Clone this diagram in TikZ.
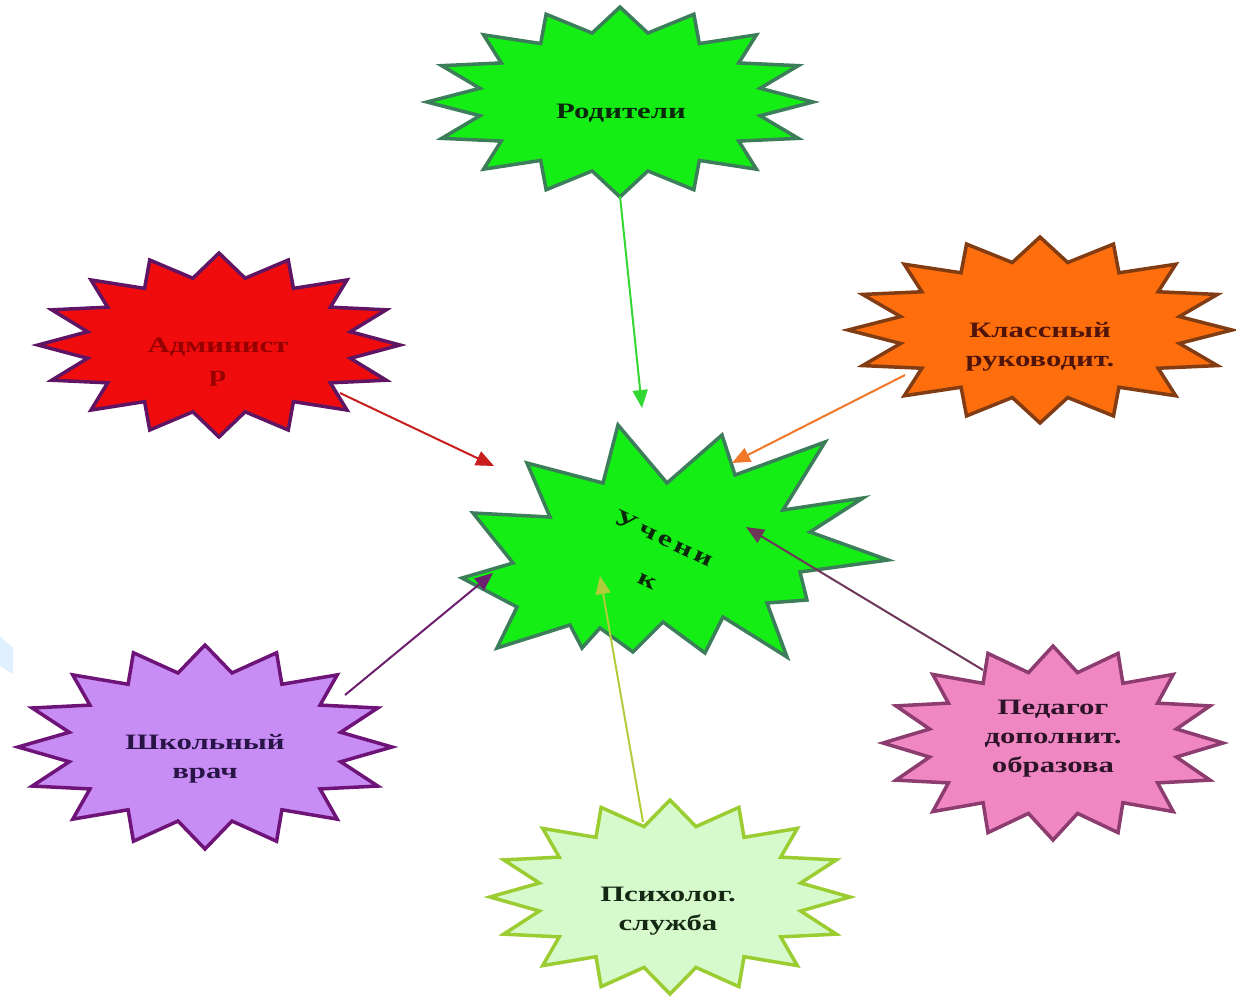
\documentclass[tikz,border=0pt]{standalone}
\usepackage{fontspec}
\newfontfamily\lbl[FakeStretch=1.4]{Liberation Serif}
\newfontfamily\lblsp[FakeStretch=1.4,LetterSpace=14]{Liberation Serif}
\usetikzlibrary{arrows.meta}
\definecolor{rodfill}{RGB}{20,238,20}
\definecolor{rodline}{RGB}{60,125,90}
\definecolor{admfill}{RGB}{240,12,12}
\definecolor{admline}{RGB}{95,20,100}
\definecolor{klfill}{RGB}{255,110,12}
\definecolor{klline}{RGB}{130,60,20}
\definecolor{shkfill}{RGB}{200,140,245}
\definecolor{shkline}{RGB}{110,20,120}
\definecolor{pedfill}{RGB}{240,135,195}
\definecolor{pedline}{RGB}{140,60,110}
\definecolor{psifill}{RGB}{215,250,205}
\definecolor{psiline}{RGB}{155,205,50}
\definecolor{arrgreen}{RGB}{50,215,50}
\definecolor{arrred}{RGB}{200,30,30}
\definecolor{arrorange}{RGB}{240,120,40}
\definecolor{arrped}{RGB}{110,55,90}
\definecolor{arrshk}{RGB}{110,30,110}
\definecolor{arrpsi}{RGB}{175,205,60}
\definecolor{admtext}{RGB}{150,0,0}
\definecolor{kltext}{RGB}{80,20,10}
\definecolor{shktext}{RGB}{40,20,70}
\definecolor{pedtext}{RGB}{45,20,40}
\definecolor{psitext}{RGB}{20,40,20}
\definecolor{rodtext}{RGB}{10,40,10}
\definecolor{paleblue}{RGB}{225,240,255}
\newcommand{\burst}[6]{%
  \draw[#6] ({#1+#3},{#2}) \foreach \i in {1,...,31}{
    -- ({#1+#3*cos(\i*11.25)*(isodd(\i)?#5:1)},{#2+#4*sin(\i*11.25)*(isodd(\i)?#5:1)}) } -- cycle;}
\tikzset{
  lab/.style={align=center, font=\lbl\bfseries\fontsize{22}{29}\selectfont, inner sep=0pt},
  labsp/.style={align=center, font=\lblsp\bfseries\fontsize{23}{29}\selectfont, inner sep=0pt},
  conn/.style={line width=2pt, -{Triangle[length=18pt,width=15pt]}},
  burstline/.style={line width=3.5pt, line join=miter}
}
\begin{document}
\begin{tikzpicture}[x=1pt,y=-1pt]
\useasboundingbox (0,0) rectangle (1236,997);
\fill[white] (0,0) rectangle (1236,997);
\fill[paleblue] (0,636) -- (13,648) -- (13,674) -- (0,666) -- cycle;
% stars
\burst{620}{102}{193}{95}{0.74}{burstline, draw=rodline, fill=rodfill}
\burst{219}{345}{181}{92}{0.74}{burstline, draw=admline, fill=admfill}
\burst{1040}{330}{192}{93}{0.74}{burstline, draw=klline, fill=klfill}
\burst{205}{747}{187}{102}{0.74}{burstline, draw=shkline, fill=shkfill}
\burst{1053}{743}{170}{97}{0.74}{burstline, draw=pedline, fill=pedfill}
\burst{670}{897}{180}{97}{0.74}{burstline, draw=psiline, fill=psifill}
% central irregular star
\draw[burstline, draw=rodline, fill=rodfill]
  (618,425) -- (667,483) -- (722,435) -- (735,475) -- (825,442) -- (783,510)
  -- (863,498) -- (810,532) -- (888,560) -- (800,572) -- (807,600) -- (767,603)
  -- (787,657) -- (723,617) -- (705,653) -- (663,622) -- (633,652) -- (600,628)
  -- (582,648) -- (570,625) -- (497,648) -- (517,607) -- (462,578) -- (513,563)
  -- (473,513) -- (550,517) -- (527,463) -- (603,483) -- cycle;
% labels
\node[lab, text=rodtext] (rod) at (621,113) {Родители};
\node[lab, text=admtext] (adm) at (218,362) {Админист\\р};
\node[lab, text=kltext] (kl) at (1040,347) {Классный\\руководит.};
\node[lab, text=shktext] (shk) at (205,759) {Школьный\\врач};
\node[lab, text=pedtext] (ped) at (1053,739) {Педагог\\дополнит.\\образова};
\node[lab, text=psitext] (psi) at (668,911) {Психолог.\\служба};
\node[labsp, text=rodtext, rotate=-25] (uch) at (664,538) {Учени};
\node[labsp, text=rodtext, rotate=-25] (uchk) at (647,582) {к};
% connector end points
\coordinate (rodS) at (620,196);
\coordinate (uchT) at (642,408);
\coordinate (admS) at (340,393);
\coordinate (uchTL) at (494,466);
\coordinate (klS) at (905,375);
\coordinate (uchTR) at (732,463);
\coordinate (pedS) at (983,670);
\coordinate (uchR) at (746,527);
\coordinate (shkS) at (345,695);
\coordinate (uchL) at (493,573);
\coordinate (psiS) at (643,822);
\coordinate (uchB) at (600,576);
% connectors
\draw[conn, arrgreen] (rodS) -- (uchT);
\draw[conn, arrred] (admS) -- (uchTL);
\draw[conn, arrorange] (klS) -- (uchTR);
\draw[conn, arrped] (pedS) -- (uchR);
\draw[conn, arrshk] (shkS) -- (uchL);
\draw[conn, arrpsi] (psiS) -- (uchB);
\end{tikzpicture}
\end{document}
